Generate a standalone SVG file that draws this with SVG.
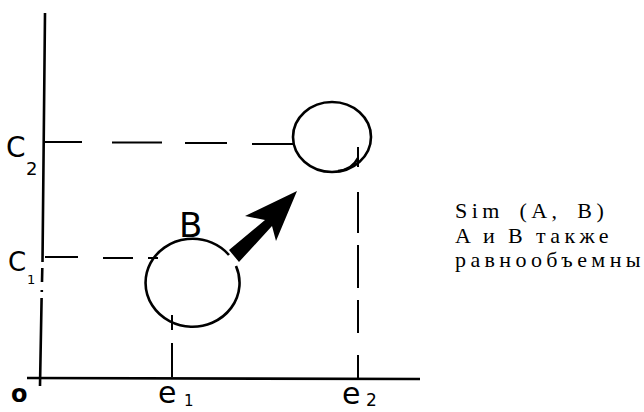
<svg xmlns="http://www.w3.org/2000/svg" width="644" height="412" viewBox="0 0 644 412">
<style>
.ax{stroke:#000;stroke-width:2.6;fill:none}
.dash{stroke:#000;stroke-width:2;fill:none}
.circ{stroke:#000;stroke-width:2.6;fill:none}
.hand{font-family:"DejaVu Sans",sans-serif;fill:#000}
.note{font-family:"Liberation Serif",serif;font-size:22px;fill:#000;letter-spacing:4.4px}
</style>
<rect width="644" height="412" fill="#fff"/>
<g id="axes">
<path class="ax" d="M45 13 L42.5 262 M42.3 268 L42 282 M41.8 290 L41.8 292 M41.6 298 L40 386"/>
<line class="ax" x1="27" y1="378" x2="420" y2="379"/>
</g>
<g id="connectors">
<path class="dash" d="M45 142 H82 M112 142.5 H162 M185 143 H227 M252 144 H293"/>
<path class="dash" d="M45 257 H78 M103 258 H133 M148 258 H158"/>
<path class="dash" d="M172 315 V330 M172 343 V377"/>
<path class="dash" d="M358 147 V167 M358 192 V233 M358 245 V288 M358 300 V333 M358 355 V378"/>
<path id="arrow" d="M229 250 L265 220 L245 216 L297 191 L276 241 L272 226 L239 262 Z" fill="#000"/>
</g>
<g id="nodeA">
<ellipse class="circ" cx="332" cy="137" rx="39" ry="35"/>
<path class="circ" d="M338 171 C348 170 354 166 358 158" stroke-width="2"/>
</g>
<g id="nodeB">
<path class="circ" d="M229 255 A47 44 0 1 0 236 266"/>
<text class="hand" x="179" y="237" font-size="34">B</text>
</g>
<g id="labels">
<text class="hand" x="6" y="157" font-size="28">C</text>
<text class="hand" x="26" y="175" font-size="18">2</text>
<text class="hand" x="8" y="271" font-size="26">C</text>
<text class="hand" x="27" y="284" font-size="13">1</text>
<text class="hand" x="11" y="402" font-size="24" font-weight="bold">o</text>
<text class="hand" x="158" y="403" font-size="30">e</text>
<text class="hand" x="184" y="406" font-size="15">1</text>
<text class="hand" x="342" y="404" font-size="30">e</text>
<text class="hand" x="366" y="406" font-size="17">2</text>
</g>
<g id="note">
<text class="note" x="455" y="218" word-spacing="6">Sim (A, B)</text>
<text class="note" x="455" y="242.5" word-spacing="-1">A и B также</text>
<text class="note" x="455" y="267">равнообъемны</text>
</g>
</svg>
